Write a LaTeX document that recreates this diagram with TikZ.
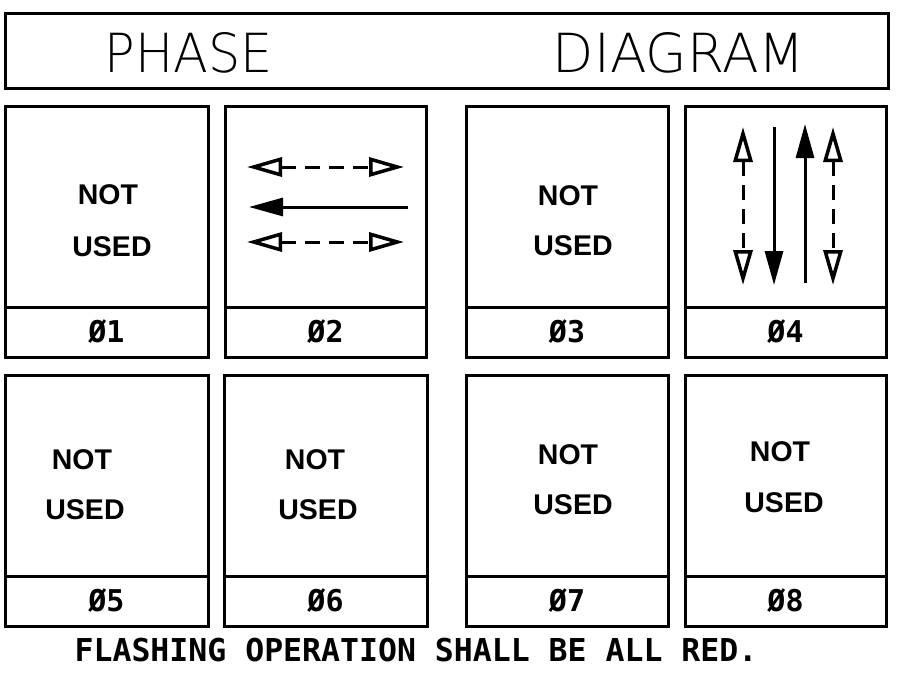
\documentclass[tikz,border=0pt]{standalone}
\usepackage{fontspec}
\usepackage{graphicx}
\usetikzlibrary{arrows.meta}
\setmainfont{Liberation Sans}
\newfontfamily\titlefont{DejaVu Sans ExtraLight}
\newfontfamily\monofont{DejaVu Sans Mono}
\tikzset{
  frame/.style={draw, line width=3pt, rectangle, inner sep=0pt, outer sep=0pt},
  upper/.style={frame, minimum width=#1, minimum height=201pt},
  cell/.style={frame, minimum width=#1, minimum height=50pt,
    font=\monofont\bfseries\fontsize{30}{30}\selectfont},
  nu/.style={inner sep=0pt, font=\bfseries\fontsize{28.5}{28.5}\selectfont},
  sig/.style={line width=3pt},
  dbl/.style={{Triangle[open, length=35pt, width=19pt, line width=3.5pt]}-{Triangle[open, length=35pt, width=19pt, line width=3.5pt]}},
  filltip/.style={-{Triangle[length=34pt, width=18pt]}},
  dsh/.style={dash pattern=on 15pt off 9pt},
}
\begin{document}
\begin{tikzpicture}[x=1pt, y=-1pt]
\useasboundingbox[fill=white] (0,0) rectangle (901,672);
% title
\node[frame, minimum width=883pt, minimum height=75pt] (title) at (446.5,50.5) {};
\node[inner sep=0pt] (tphase) at (189,53) {\resizebox{168pt}{40pt}{\titlefont PHASE}};
\node[inner sep=0pt] (tdiag) at (679,53) {\resizebox{252pt}{40pt}{\titlefont DIAGRAM}};
% row 1
\node[upper=203pt] (b1) at (106.5,206.5) {};
\node[cell=203pt] (c1) at (106.5,332) {Ø1};
\node[upper=201pt] (b2) at (325.5,206.5) {};
\node[cell=201pt] (c2) at (325.5,332) {Ø2};
\node[upper=202pt] (b3) at (567,206.5) {};
\node[cell=202pt] (c3) at (567,332) {Ø3};
\node[upper=201pt] (b4) at (785.5,206.5) {};
\node[cell=201pt] (c4) at (785.5,332) {Ø4};
% row 2
\node[upper=203pt] (b5) at (106.5,476) {};
\node[cell=203pt] (c5) at (106.5,601) {Ø5};
\node[upper=203pt] (b6) at (325.5,476) {};
\node[cell=203pt] (c6) at (325.5,601) {Ø6};
\node[upper=202pt] (b7) at (567,476) {};
\node[cell=202pt] (c7) at (567,601) {Ø7};
\node[upper=201pt] (b8) at (785.5,476) {};
\node[cell=201pt] (c8) at (785.5,601) {Ø8};
% NOT USED texts
\node[nu] (n1) at (108,195) {NOT};
\node[nu] (u1) at (112,247) {USED};
\node[nu] (n3) at (568,196) {NOT};
\node[nu] (u3) at (573,246) {USED};
\node[nu] (n5) at (82,460) {NOT};
\node[nu] (u5) at (85,510) {USED};
\node[nu] (n6) at (315,460) {NOT};
\node[nu] (u6) at (318,510) {USED};
\node[nu] (n7) at (568,455) {NOT};
\node[nu] (u7) at (573,505) {USED};
\node[nu] (n8) at (780,452) {NOT};
\node[nu] (u8) at (784,503) {USED};
% phase 2 arrows
\coordinate (p2a1) at (247,167); \coordinate (p2a2) at (404,167);
\coordinate (p2b1) at (408,207); \coordinate (p2b2) at (249,207);
\coordinate (p2c1) at (247,242); \coordinate (p2c2) at (404,242);
\draw[sig, dsh, dbl] (p2a1) -- (p2a2);
\draw[sig, filltip] (p2b1) -- (p2b2);
\draw[sig, dsh, dbl] (p2c1) -- (p2c2);
% phase 4 arrows
\coordinate (p4a1) at (743,127); \coordinate (p4a2) at (743,285);
\coordinate (p4b1) at (774,127); \coordinate (p4b2) at (774,285);
\coordinate (p4c1) at (805,283); \coordinate (p4c2) at (805,124);
\coordinate (p4d1) at (833,127); \coordinate (p4d2) at (833,285);
\draw[sig, dsh, dbl] (p4a1) -- (p4a2);
\draw[sig, filltip] (p4b1) -- (p4b2);
\draw[sig, filltip] (p4c1) -- (p4c2);
\draw[sig, dsh, dbl] (p4d1) -- (p4d2);
% footer
\node[inner sep=0pt, font=\monofont\bfseries\fontsize{31.5}{31.5}\selectfont] (foot) at (416,650) {FLASHING OPERATION SHALL BE ALL RED.};
\end{tikzpicture}
\end{document}
